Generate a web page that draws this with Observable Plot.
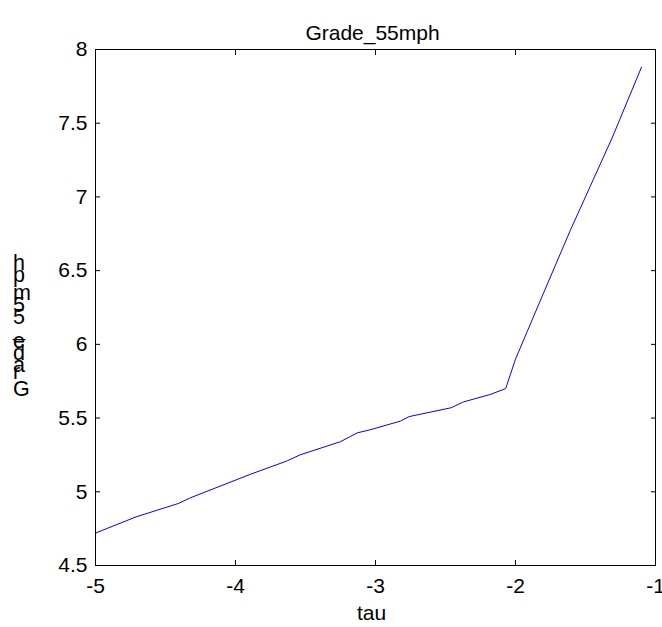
<!DOCTYPE html>
<html><head><meta charset="utf-8">
<script src="https://cdn.jsdelivr.net/npm/d3@7"></script>
<script src="https://cdn.jsdelivr.net/npm/@observablehq/plot@0.6"></script>
<style>body{margin:0;background:#fff} svg{display:block}</style>
</head><body><div id="chart"></div>
<script>
const tau   = [-5, -4.71, -4.41, -4.32, -3.89, -3.63, -3.54, -3.25, -3.13, -3.04, -2.82, -2.76, -2.46, -2.37, -2.18, -2.07, -2.0, -1.79, -1.61, -1.31, -1.1];
const grade = [4.72, 4.83, 4.92, 4.96, 5.12, 5.21, 5.25, 5.34, 5.40, 5.42, 5.48, 5.51, 5.57, 5.61, 5.66, 5.70, 5.90, 6.37, 6.77, 7.40, 7.88];
const xTicks = [-5, -4, -3, -2, -1];
const yTicks = [4.5, 5, 5.5, 6, 6.5, 7, 7.5, 8];
const titleText = "Grade_55mph";
const xLabel = "tau";
const yLabel = "Grade_55mph";

const data = tau.map((t, i) => ({tau: t, grade: grade[i]}));
const font = "'Liberation Sans', Arial, sans-serif";
const fmt = d => String(d);
const blank = () => "";

const plot = Plot.plot({
  width: 662, height: 627,
  marginLeft: 95, marginRight: 7, marginTop: 49, marginBottom: 62,
  style: {fontFamily: font, fontSize: "21px", background: "white", color: "black"},
  x: {domain: [-5, -1]},
  y: {domain: [4.5, 8]},
  marks: [
    Plot.line(data, {x: "tau", y: "grade", stroke: "#0000ff", strokeWidth: 1}),
    Plot.frame({stroke: "black", strokeWidth: 1}),
    Plot.axisX(xTicks, {anchor: "bottom", tickSize: 5, dy: -5, tickPadding: 13, tickFormat: fmt, label: null, fontSize: 21}),
    Plot.axisX(xTicks, {anchor: "top", tickSize: 5, dy: 5, tickFormat: blank, label: null}),
    Plot.axisY(yTicks, {anchor: "left", tickSize: 5, dx: 5, tickPadding: 8, tickFormat: fmt, label: null, fontSize: 21}),
    Plot.axisY(yTicks, {anchor: "right", tickSize: 5, dx: -5, tickFormat: blank, label: null}),
    Plot.text([titleText], {frameAnchor: "top", dx: -3, dy: -24, fontSize: 21, text: d => d}),
    Plot.text([xLabel], {frameAnchor: "bottom", dx: -4, dy: 54, fontSize: 21, text: d => d})
  ]
});

d3.select(plot).append("text")
  .attr("transform", "translate(13,396) rotate(-90)")
  .attr("rotate", "90")
  .attr("text-anchor", "start")
  .attr("font-family", font)
  .attr("font-size", 21.5)
  .attr("fill", "black")
  .text(yLabel);

document.getElementById("chart").appendChild(plot);
</script>
</body></html>
